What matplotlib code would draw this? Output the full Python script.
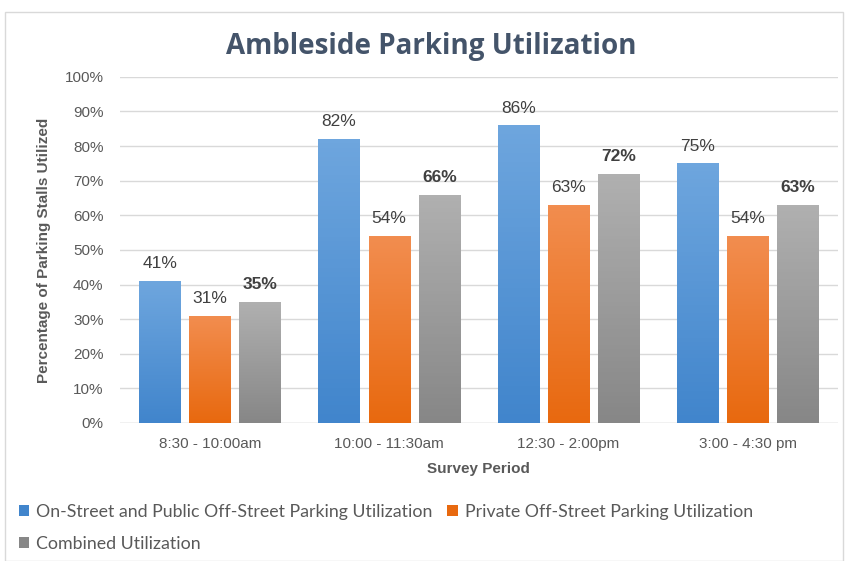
import matplotlib.pyplot as plt
import numpy as np
from matplotlib.colors import LinearSegmentedColormap
from matplotlib.patches import Rectangle

periods = ['8:30 - 10:00am', '10:00 - 11:30am', '12:30 - 2:00pm', '3:00 - 4:30 pm']
on_street = [41, 82, 86, 75]
private = [31, 54, 63, 54]
combined = [35, 66, 72, 63]
series_names = ['On-Street and Public Off-Street Parking Utilization',
                'Private Off-Street Parking Utilization',
                'Combined Utilization']

plt.rcParams['font.family'] = ['Liberation Sans', 'DejaVu Sans']

fig = plt.figure(figsize=(8.46, 5.61), dpi=100)
fig.patches.append(Rectangle((0.006, 0.0), 0.99, 0.978, transform=fig.transFigure,
                             fill=False, edgecolor='#d9d9d9', lw=1))
ax = fig.add_axes([0.142, 0.246, 0.848, 0.617])

x = np.arange(len(periods))
w = 0.23
step = 0.28
grads = [('#6ea6de', '#4185cc'), ('#f28d4f', '#e8690f'), ('#b0b0b0', '#878787')]
data = [on_street, private, combined]

for i, (vals, (top, bot)) in enumerate(zip(data, grads)):
    bars = ax.bar(x + (i - 1) * step, vals, w, color=bot, label=series_names[i], zorder=2)
    cmap = LinearSegmentedColormap.from_list('g%d' % i, [bot, top])
    for b, v in zip(bars, vals):
        x0, y0 = b.get_x(), b.get_y()
        im = ax.imshow(np.linspace(0, 1, 64).reshape(-1, 1), cmap=cmap, origin='lower',
                       extent=[x0, x0 + b.get_width(), y0, y0 + b.get_height()],
                       aspect='auto', zorder=2.5)
        im.set_clip_path(b)
        ax.text(b.get_x() + b.get_width() / 2, v + 2.8, '%d%%' % v, ha='center', va='bottom',
                fontsize=12.5, color='#404040', fontweight='bold' if i == 2 else 'normal')

ax.set_xlim(-0.5, 3.5)
ax.set_ylim(0, 100)
ax.set_yticks(range(0, 101, 10))
ax.set_yticklabels(['%d%%' % t for t in range(0, 101, 10)])
ax.set_xticks(x)
ax.set_xticklabels(periods)
ax.tick_params(length=0, labelsize=11, colors='#595959')
ax.tick_params(axis='x', pad=10)
ax.tick_params(axis='y', pad=12)
ax.grid(axis='y', color='#d9d9d9', lw=1, zorder=0)
for s in ax.spines.values():
    s.set_visible(False)
ax.axhline(0, color='#d9d9d9', lw=1, zorder=1)

ax.set_xlabel('Survey Period', fontsize=11, fontweight='bold', color='#595959', labelpad=8)
ax.set_ylabel('Percentage of Parking Stalls Utilized', fontsize=11, fontweight='bold',
              color='#595959', labelpad=10)

fig.text(0.51, 0.918, 'Ambleside Parking Utilization', ha='center', va='center',
         fontsize=20, fontweight='bold', color='#44546a', family=['Open Sans', 'DejaVu Sans'])

h, l = ax.get_legend_handles_labels()
order = [0, 2, 1]
fig.legend([h[k] for k in order], [l[k] for k in order], ncol=2, loc='upper left',
           bbox_to_anchor=(0.003, 0.13), frameon=False, handlelength=0.6,
           handleheight=0.6, handletextpad=0.4, columnspacing=0.8, labelspacing=0.9,
           labelcolor='#595959', prop={'family': ['Lato', 'DejaVu Sans'], 'size': 12.8})

fig.savefig('out.png', dpi=100)
